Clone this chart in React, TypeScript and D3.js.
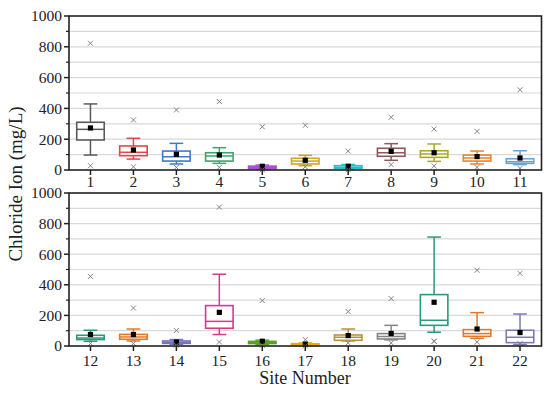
import React from "react";
import * as d3 from "d3";

const sitesTop = ["1","2","3","4","5","6","7","8","9","10","11"];
const sitesBottom = ["12","13","14","15","16","17","18","19","20","21","22"];
// [whiskerLow, q1, median, q3, whiskerHigh, mean, outlierHigh, outlierLow]
const statsTop: number[][] = [
  [97, 195, 264, 310, 429, 273, 823, 28],
  [71, 93, 115, 156, 206, 130, 325, 21],
  [39, 58, 86, 123, 173, 102, 390, 17],
  [43, 58, 91, 112, 145, 97, 444, 17],
  [4, 8, 15, 25, 32, 24, 281, 2],
  [28, 39, 58, 76, 95, 63, 290, 21],
  [4, 10, 18, 28, 36, 24, 123, 2],
  [63, 89, 112, 141, 171, 121, 342, 35],
  [56, 82, 104, 125, 169, 112, 266, 26],
  [39, 58, 78, 97, 123, 87, 251, 17],
  [35, 43, 54, 73, 125, 78, 521, 11],
];
const statsBottom: number[][] = [
  [31, 42, 52, 70, 103, 75, 455, 16],
  [33, 44, 59, 76, 111, 75, 248, 16],
  [10, 17, 24, 33, 42, 26, 101, 5],
  [75, 116, 161, 264, 469, 220, 908, 26],
  [8, 16, 23, 30, 38, 31, 297, 4],
  [2, 3, 8, 15, 20, 13, 42, 1],
  [33, 37, 57, 72, 111, 68, 225, 20],
  [40, 46, 62, 81, 135, 82, 310, 20],
  [90, 135, 168, 336, 712, 286, 31, 31],
  [50, 63, 81, 107, 218, 111, 495, 26],
  [10, 22, 57, 103, 209, 88, 475, 16],
];
const colorsTop = ["#5a5a5a","#e0474c","#3a7cc8","#3aa66f","#a84fd0","#cfa526","#22c3c9","#8a5a5a","#a9a927","#e8812f","#6aa2d6"];
const colorsBottom = ["#2a9a78","#e07b28","#7474bd","#d6388f","#5aa02c","#e6a817","#b8913a","#858585","#2a9a7a","#e07a2a","#7b7bb8"];
const yTicks = [0, 200, 400, 600, 800, 1000];
const yMinor = [100, 300, 500, 700, 900];

const FONT = "'Liberation Serif', 'DejaVu Serif', serif";
const X0 = 69, X1 = 541.5;

function Panel({ sites, stats, colors, top, bottom, labelOffset }: { sites: string[]; stats: number[][]; colors: string[]; top: number; bottom: number; labelOffset: number }) {
  const x = d3.scaleBand<string>().domain(sites).range([X0, X1]).padding(0);
  const y = d3.scaleLinear().domain([0, 1000]).range([bottom, top]);
  const bw = x.bandwidth() * 0.64;
  const cw = x.bandwidth() * 0.32;
  const grid = [...yMinor, ...yTicks.filter(t => t > 0 && t < 1000)];
  return (
    <g>
      {grid.map(t => (
        <line key={"g" + t} x1={X0} x2={X1} y1={y(t)} y2={y(t)} stroke="#d9d9d9" strokeWidth={1.2} />
      ))}
      {sites.map((s, i) => {
        const [wl, q1, md, q3, wh, mean, oh, ol] = stats[i];
        const cx = x(s)! + x.bandwidth() / 2;
        const c = colors[i];
        return (
          <g key={s}>
            <line x1={cx} x2={cx} y1={y(q3)} y2={y(wh)} stroke={c} strokeWidth={1.5} />
            <line x1={cx} x2={cx} y1={y(q1)} y2={y(wl)} stroke={c} strokeWidth={1.5} />
            <line x1={cx - cw / 2} x2={cx + cw / 2} y1={y(wh)} y2={y(wh)} stroke={c} strokeWidth={1.5} />
            <line x1={cx - cw / 2} x2={cx + cw / 2} y1={y(wl)} y2={y(wl)} stroke={c} strokeWidth={1.5} />
            <rect x={cx - bw / 2} width={bw} y={y(q3)} height={Math.max(0.5, y(q1) - y(q3))} fill="#fff" fillOpacity={0.85} stroke={c} strokeWidth={1.6} />
            <line x1={cx - bw / 2} x2={cx + bw / 2} y1={y(md)} y2={y(md)} stroke={c} strokeWidth={1.5} />
            <rect x={cx - 2.6} y={y(mean) - 2.6} width={5.2} height={5.2} fill="#000" />
            {[oh, ol].map((o, k) => (
              <path key={k} d={`M${cx - 2.5},${y(o) - 2.5}L${cx + 2.5},${y(o) + 2.5}M${cx - 2.5},${y(o) + 2.5}L${cx + 2.5},${y(o) - 2.5}`} stroke="#777" strokeWidth={0.9} fill="none" />
            ))}
            <line x1={cx} x2={cx} y1={bottom} y2={bottom + 5} stroke="#222" strokeWidth={1.5} />
            <text x={cx} y={bottom + labelOffset} textAnchor="middle" fontFamily={FONT} fontSize={15.5} fill="#222">{s}</text>
          </g>
        );
      })}
      {yTicks.map(t => (
        <g key={"t" + t}>
          <line x1={X0 - 5} x2={X0} y1={y(t)} y2={y(t)} stroke="#222" strokeWidth={1.5} />
          <text x={X0 - 7} y={y(t)} dy="0.35em" textAnchor="end" fontFamily={FONT} fontSize={15.5} fill="#222">{t}</text>
        </g>
      ))}
      {yMinor.map(t => (
        <line key={"m" + t} x1={X0 - 3} x2={X0} y1={y(t)} y2={y(t)} stroke="#222" strokeWidth={1.2} />
      ))}
      <rect x={X0} y={top} width={X1 - X0} height={bottom - top} fill="none" stroke="#222" strokeWidth={1.6} />
    </g>
  );
}

export default function App() {
  return (
    <svg width={550} height={396} style={{ position: "absolute", left: 0, top: 0, background: "#fff" }}>
      <Panel sites={sitesTop} stats={statsTop} colors={colorsTop} top={16} bottom={170} labelOffset={17} />
      <Panel sites={sitesBottom} stats={statsBottom} colors={colorsBottom} top={193} bottom={346} labelOffset={20} />
      <text transform="translate(22,184) rotate(-90)" textAnchor="middle" fontFamily={FONT} fontSize={19} fill="#222">Chloride Ion (mg/L)</text>
      <text x={305} y={384} textAnchor="middle" fontFamily={FONT} fontSize={18} fill="#222">Site Number</text>
    </svg>
  );
}
